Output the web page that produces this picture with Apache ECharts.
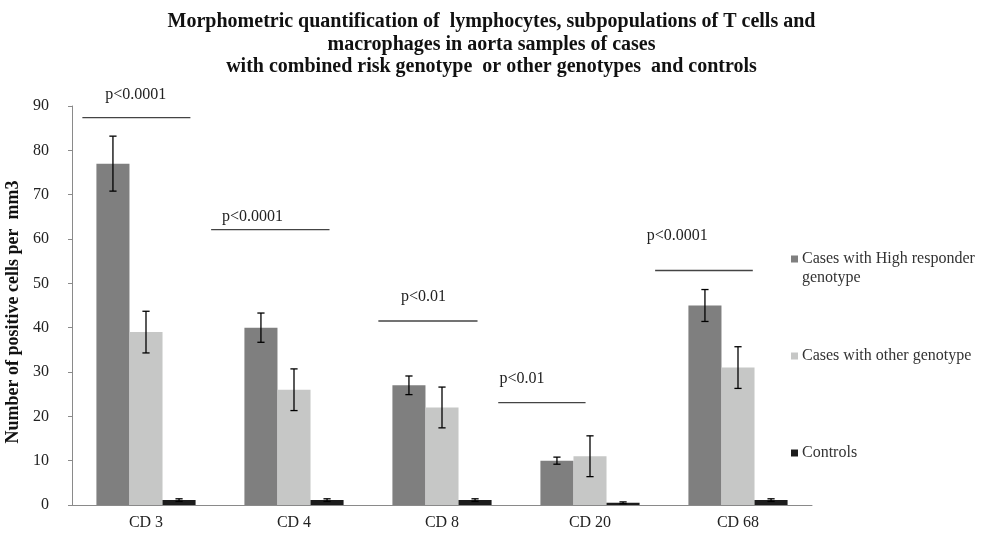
<!DOCTYPE html>
<html>
<head>
<meta charset="utf-8">
<script src="https://cdn.jsdelivr.net/npm/echarts@6/dist/echarts.min.js"></script>
<style>html,body{margin:0;padding:0;background:#fff}#c{width:983px;height:534px}</style>
</head>
<body>
<div id="c"></div>
<script>
var categories = ['CD 3', 'CD 4', 'CD 8', 'CD 20', 'CD 68'];
var seriesNames = ['Cases with High responder genotype', 'Cases with other genotype', 'Controls'];
var highValues = [77, 40, 27, 10, 45];
var highErrors = [6.2, 3.3, 2.1, 0.8, 3.6];
var otherValues = [39, 26, 22, 11, 31];
var otherErrors = [4.7, 4.7, 4.6, 4.6, 4.7];
var controlValues = [1.1, 1.1, 1.1, 0.5, 1.1];
var controlErrors = [0.3, 0.3, 0.3, 0.2, 0.3];
var yTicks = [0, 10, 20, 30, 40, 50, 60, 70, 80, 90];
// significance annotations (category units for x, value units for y)
var pLabels = ['p<0.0001', 'p<0.0001', 'p<0.01', 'p<0.01', 'p<0.0001'];
var pLineFrom = [-0.43, 0.44, 1.57, 2.38, 3.44];
var pLineTo = [0.30, 1.24, 2.24, 2.97, 4.10];
var pLineLevel = [87.4, 62.1, 41.5, 23.1, 52.9];
var pLabelAt = [-0.07, 0.72, 1.875, 2.54, 3.59];
var pLabelLevel = [92.5, 65.0, 47.0, 28.4, 60.7];

var FONT = '"Liberation Serif", "Times New Roman", serif';
var colors = ['#7f7f7f', '#c6c7c6', '#1c1c1c'];
var CAT_GAP = 0.33;

var chart = echarts.init(document.getElementById('c'));

function errSeries(k, vals, errs) {
  return {
    type: 'custom',
    z: 5,
    silent: true,
    clip: false,
    data: vals.map(function (v, i) { return [i, v, errs[i]]; }),
    renderItem: function (params, api) {
      var i = api.value(0), v = api.value(1), e = api.value(2);
      var band = api.size([1, 0])[0];
      var bw = band * (1 - CAT_GAP) / 3;
      var c = api.coord([i, v]);
      var x = c[0] + (k - 1) * bw;
      var hi = api.coord([i, v + e])[1];
      var lo = api.coord([i, v - e])[1];
      var cap = 3.6;
      var st = { stroke: '#000', lineWidth: 1.3 };
      return {
        type: 'group',
        children: [
          { type: 'line', shape: { x1: x, y1: hi, x2: x, y2: lo }, style: st },
          { type: 'line', shape: { x1: x - cap, y1: hi, x2: x + cap, y2: hi }, style: st },
          { type: 'line', shape: { x1: x - cap, y1: lo, x2: x + cap, y2: lo }, style: st }
        ]
      };
    }
  };
}

var pSeries = {
  type: 'custom',
  z: 6,
  silent: true,
  clip: false,
  data: pLabels.map(function (t, i) { return [pLineFrom[i], pLineTo[i], pLineLevel[i], pLabelAt[i], pLabelLevel[i]]; }),
  renderItem: function (params, api) {
    var band = api.size([1, 0])[0];
    var x0 = api.coord([0, 0])[0];
    var ly = api.coord([0, api.value(2)])[1];
    var ty = api.coord([0, api.value(4)])[1];
    return {
      type: 'group',
      children: [
        { type: 'line', shape: { x1: x0 + api.value(0) * band, y1: ly, x2: x0 + api.value(1) * band, y2: ly },
          style: { stroke: '#444', lineWidth: 1.3 } },
        { type: 'text', x: x0 + api.value(3) * band, y: ty,
          style: { text: pLabels[params.dataIndex], fill: '#222', font: '16px ' + FONT, align: 'center', verticalAlign: 'middle' } }
      ]
    };
  }
};

function legendAt(name, top, fmt, icon, ih) {
  return {
    data: [name],
    orient: 'vertical',
    left: 791,
    top: top,
    padding: 0,
    itemWidth: 7,
    itemHeight: ih || 7,
    itemGap: 0,
    icon: icon || 'rect',
    selectedMode: false,
    formatter: fmt || function (n) { return n; },
    textStyle: { fontFamily: FONT, fontSize: 16, color: '#333', lineHeight: 19, padding: [0, 0, 0, -1] }
  };
}

chart.setOption({
  animation: false,
  backgroundColor: '#fff',
  title: {
    text: 'Morphometric quantification of  lymphocytes, subpopulations of T cells and\nmacrophages in aorta samples of cases\nwith combined risk genotype  or other genotypes  and controls',
    left: 'center',
    top: 6,
    textStyle: { fontFamily: FONT, fontSize: 20, fontWeight: 'bold', color: '#111', lineHeight: 22.5 }
  },
  legend: [
    legendAt(seriesNames[0], 249.5, function (n) { return n.replace(' genotype', '\ngenotype'); },
      'path://M0,0L7,0L7,7L0,7Z M0,26L0.01,26L0,26Z', 26),
    legendAt(seriesNames[1], 346.5),
    legendAt(seriesNames[2], 443.5)
  ],
  grid: { left: 72, right: 171, top: 106, bottom: 29, outerBoundsMode: 'none', containLabel: false },
  xAxis: {
    type: 'category',
    data: categories,
    axisLine: { lineStyle: { color: '#8a8a8a', width: 1 } },
    axisTick: { show: false },
    axisLabel: { fontFamily: FONT, fontSize: 16, color: '#222', margin: 10 }
  },
  yAxis: {
    type: 'value',
    min: yTicks[0],
    max: yTicks[yTicks.length - 1],
    interval: yTicks[1] - yTicks[0],
    name: 'Number of positive cells per  mm3',
    nameLocation: 'middle',
    nameGap: 43,
    nameRotate: 90,
    nameTextStyle: { fontFamily: FONT, fontSize: 18, fontWeight: 'bold', color: '#111', padding: [0, 13, 0, 0] },
    splitLine: { show: false },
    axisLine: { show: true, lineStyle: { color: '#8a8a8a', width: 1 } },
    axisTick: { show: true, length: 4, lineStyle: { color: '#8a8a8a' } },
    axisLabel: { fontFamily: FONT, fontSize: 16, color: '#222', margin: 23 }
  },
  series: [
    { name: seriesNames[0], type: 'bar', data: highValues, barGap: '0%', barCategoryGap: (CAT_GAP * 100) + '%', itemStyle: { color: colors[0] } },
    { name: seriesNames[1], type: 'bar', data: otherValues, barGap: '0%', barCategoryGap: (CAT_GAP * 100) + '%', itemStyle: { color: colors[1] } },
    { name: seriesNames[2], type: 'bar', data: controlValues, barGap: '0%', barCategoryGap: (CAT_GAP * 100) + '%', itemStyle: { color: colors[2] } },
    errSeries(0, highValues, highErrors),
    errSeries(1, otherValues, otherErrors),
    errSeries(2, controlValues, controlErrors),
    pSeries
  ]
});
</script>
</body>
</html>
